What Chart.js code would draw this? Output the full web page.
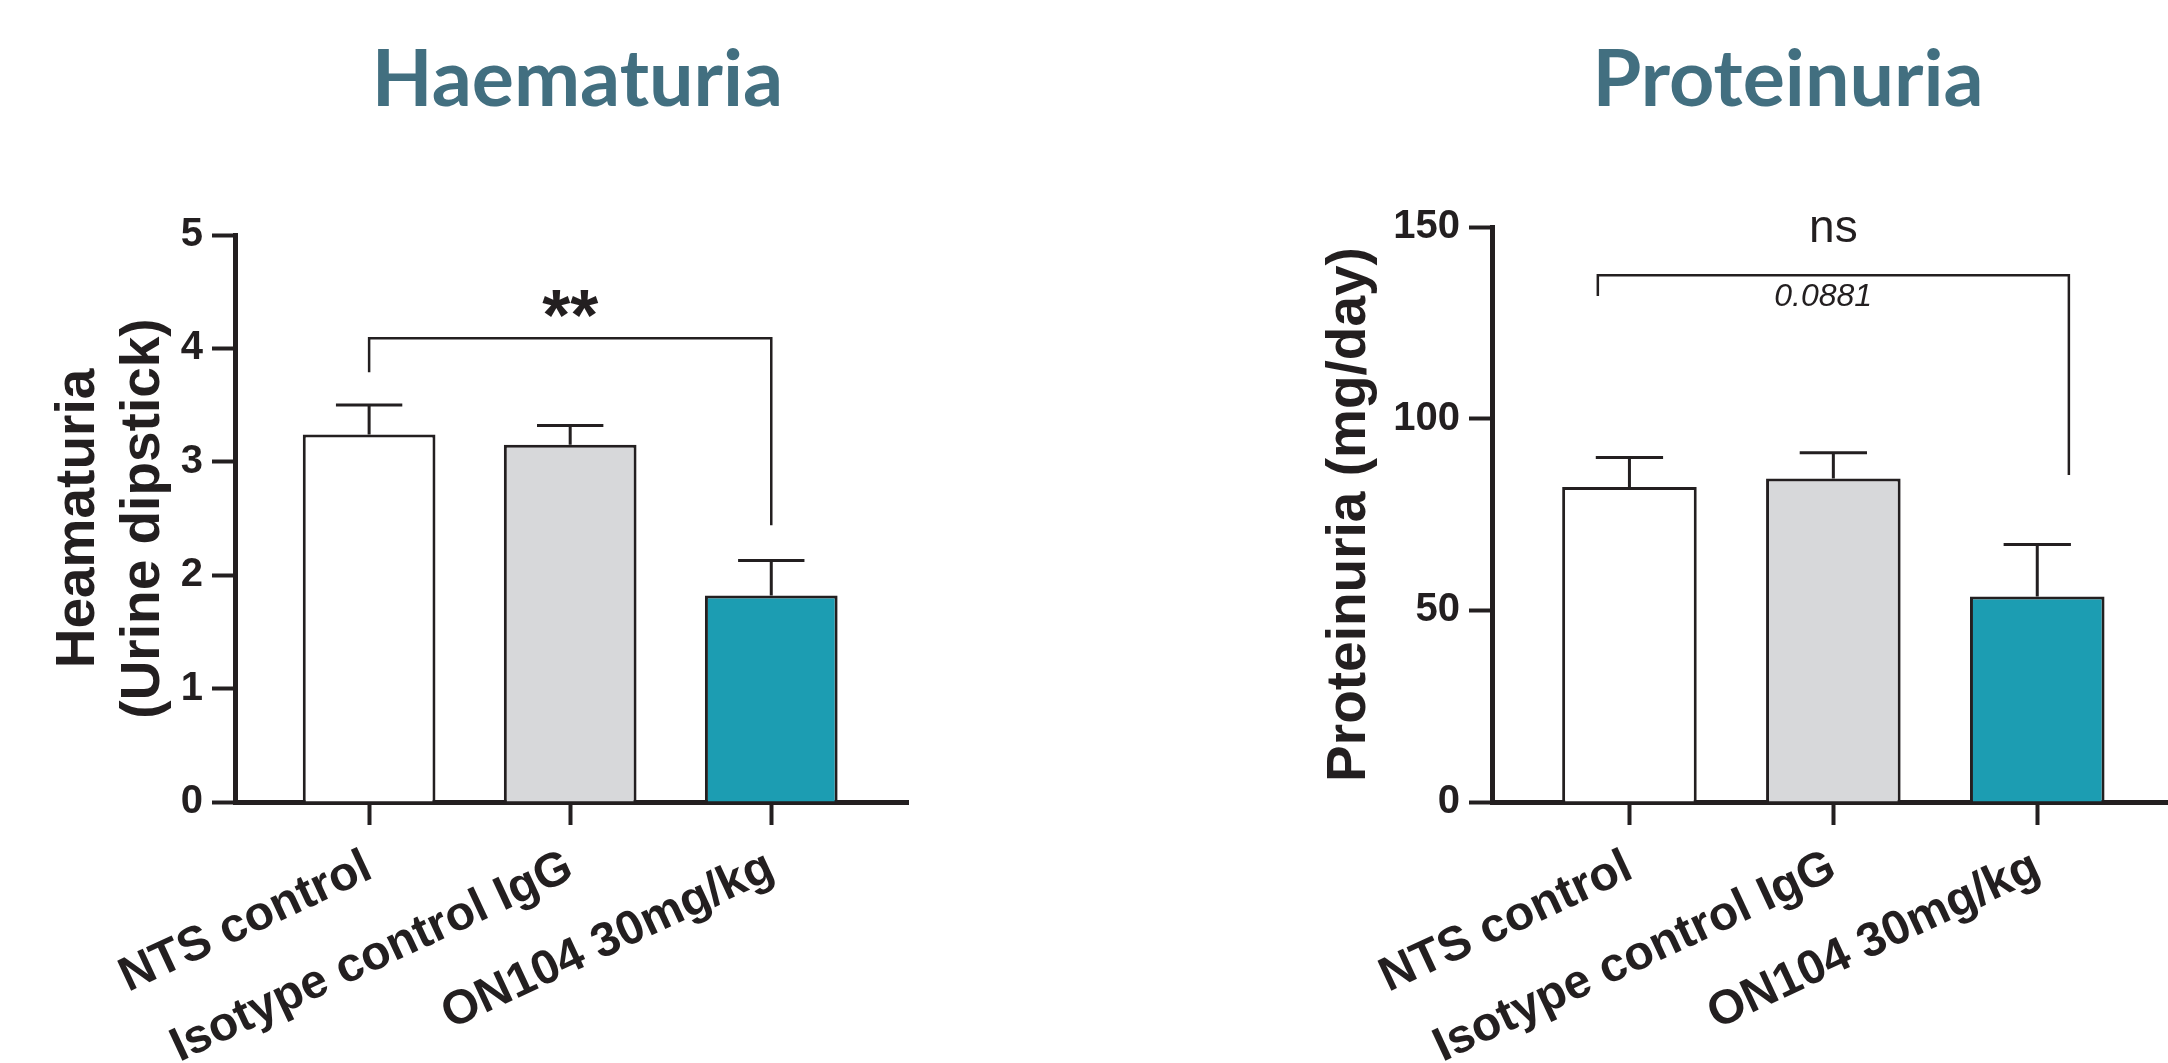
<!DOCTYPE html>
<html>
<head>
<meta charset="utf-8">
<script src="https://cdn.jsdelivr.net/npm/chart.js@4/dist/chart.umd.min.js"></script>
<style>
  html, body { margin: 0; padding: 0; background: #fff; overflow: hidden; width: 2168px; height: 1063px; }
  canvas { position: absolute; top: 0; }
  #haem { left: 0; }
  #prot { left: 1100px; }
</style>
</head>
<body>
<canvas id="haem" width="1155" height="1063"></canvas>
<canvas id="prot" width="1376" height="1063"></canvas>
<script>
// ---------------- DATA ----------------
const categories = ["NTS control", "Isotype control IgG", "ON104 30mg/kg"];
const barColors = ["#ffffff", "#d7d8da", "#1c9db2"];

// haematuria, urine dipstick score (mean + SEM)
const haemMean = [3.24, 3.15, 1.82];
const haemSem = [0.26, 0.17, 0.31];
const haemTicks = [0, 1, 2, 3, 4, 5];

// proteinuria, mg/day (mean + SEM)
const protMean = [82.2, 84.4, 53.6];
const protSem = [7.7, 6.7, 13.6];
const protTicks = [0, 50, 100, 150];

const ink = "#231f20";
const titleColor = "#426f80";

Chart.defaults.font.family = "'Liberation Sans', Arial, sans-serif";

// error bars + significance bracket, placed through the chart scales
const overlay = {
  id: "overlay",
  afterDatasetsDraw(chart, args, o) {
    const { ctx } = chart;
    const x = chart.scales.x;
    const y = chart.scales.y;
    ctx.save();
    ctx.strokeStyle = ink;
    ctx.lineWidth = 3;
    const capHalf = x.getPixelForValue(o.capHalf) - x.getPixelForValue(0);
    o.mean.forEach((m, i) => {
      const px = x.getPixelForValue(i);
      const yTop = y.getPixelForValue(m + o.sem[i]);
      ctx.beginPath();
      ctx.moveTo(px, y.getPixelForValue(m));
      ctx.lineTo(px, yTop);
      ctx.moveTo(px - capHalf, yTop);
      ctx.lineTo(px + capHalf, yTop);
      ctx.stroke();
    });

    const b = o.bracket;
    ctx.lineWidth = 2.5;
    ctx.beginPath();
    ctx.moveTo(x.getPixelForValue(b.from), y.getPixelForValue(b.fromEnd));
    ctx.lineTo(x.getPixelForValue(b.from), y.getPixelForValue(b.top));
    ctx.lineTo(x.getPixelForValue(b.to), y.getPixelForValue(b.top));
    ctx.lineTo(x.getPixelForValue(b.to), y.getPixelForValue(b.toEnd));
    ctx.stroke();

    ctx.fillStyle = ink;
    ctx.textAlign = "center";
    ctx.textBaseline = "middle";
    b.labels.forEach((l) => {
      ctx.font = l.font;
      ctx.fillText(l.text, x.getPixelForValue(l.x), y.getPixelForValue(l.y));
    });
    ctx.restore();
  },
};

function buildChart(id, o) {
  return new Chart(document.getElementById(id), {
    type: "bar",
    data: {
      datasets: [
        {
          data: o.mean.map((v, i) => ({ x: i, y: v })),
          backgroundColor: barColors,
          borderColor: ink,
          borderWidth: 3,
          barPercentage: 0.66,
          categoryPercentage: 1,
        },
      ],
    },
    options: {
      responsive: false,
      animation: false,
      layout: { padding: 0 },
      plugins: {
        legend: { display: false },
        tooltip: { enabled: false },
        title: {
          display: true,
          text: o.title,
          color: titleColor,
          font: { family: "Lato", size: 79, weight: "bold", lineHeight: 1.2 },
          padding: { top: 33, bottom: o.areaTop - 33 - 94.8 },
        },
        overlay: o,
      },
      scales: {
        x: {
          type: "linear",
          min: o.xMin,
          max: o.xMax,
          offset: false,
          grid: {
            offset: false,
            drawOnChartArea: false,
            tickLength: 23,
            tickWidth: 4,
            tickColor: ink,
          },
          border: { color: ink, width: 5 },
          ticks: {
            autoSkip: false,
            minRotation: 25,
            maxRotation: 25,
            padding: 14,
            color: ink,
            font: { size: 48, weight: "bold" },
            callback: (v) => categories[v],
          },
          afterBuildTicks: (s) => {
            s.ticks = categories.map((c, i) => ({ value: i }));
          },
          afterFit: (s) => {
            s.height = 261;
          },
        },
        y: {
          min: 0,
          max: o.ticks[o.ticks.length - 1],
          grid: { drawOnChartArea: false, tickLength: 23, tickWidth: 4, tickColor: ink },
          border: { color: ink, width: 5 },
          ticks: { padding: 9, color: ink, font: { size: 40, weight: "bold" } },
          afterBuildTicks: (s) => {
            s.ticks = o.ticks.map((v) => ({ value: v }));
          },
          title: {
            display: true,
            text: o.yTitle,
            color: ink,
            font: { size: 55, weight: "bold", lineHeight: 1.18 },
            padding: { top: o.yTitlePad, bottom: 0 },
          },
          afterFit: (s) => {
            s.width = o.yWidth;
          },
        },
        // empty right box so the title centres over the plot
        pad: {
          type: "linear",
          position: "right",
          grid: { display: false },
          border: { display: false },
          ticks: { display: false },
          afterFit: (s) => {
            s.width = o.rightPad;
          },
        },
      },
    },
    plugins: [overlay],
  });
}

buildChart("haem", {
  title: "Haematuria",
  yTitle: ["Heamaturia", "(Urine dipstick)"],
  mean: haemMean,
  sem: haemSem,
  ticks: haemTicks,
  xMin: -0.667,
  xMax: 2.68,
  areaTop: 235,
  yWidth: 235,
  yTitlePad: 46.5,
  rightPad: 247,
  capHalf: 0.165,
  bracket: {
    from: 0,
    to: 2,
    top: 4.09,
    fromEnd: 3.79,
    toEnd: 2.44,
    labels: [{ text: "**", x: 1, y: 4.25, font: "bold 72px 'Liberation Sans', Arial" }],
  },
});

buildChart("prot", {
  title: "Proteinuria",
  yTitle: "Proteinuria (mg/day)",
  mean: protMean,
  sem: protSem,
  ticks: protTicks,
  xMin: -0.674,
  xMax: 2.7,
  areaTop: 227,
  yWidth: 392,
  yTitlePad: 217,
  rightPad: 296,
  capHalf: 0.165,
  bracket: {
    from: -0.155,
    to: 2.155,
    top: 137.4,
    fromEnd: 132,
    toEnd: 85.3,
    labels: [
      { text: "ns", x: 1, y: 149.4, font: "46px 'Liberation Sans', Arial" },
      { text: "0.0881", x: 0.95, y: 131.7, font: "italic 32px 'Liberation Sans', Arial" },
    ],
  },
});
</script>
</body>
</html>
